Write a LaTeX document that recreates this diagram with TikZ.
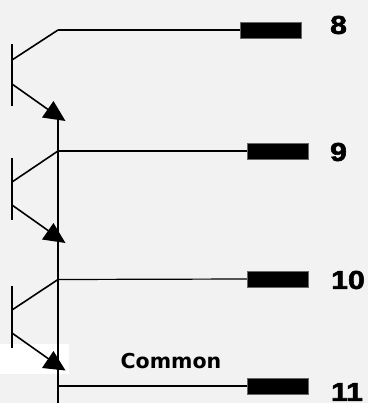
\documentclass[tikz,border=0pt]{standalone}
\usepackage{fontspec}
\setmainfont{DejaVu Sans}
\newfontfamily\pinfont[FakeBold=2.2,FakeStretch=1.17]{Liberation Sans Bold}
\tikzset{
  x=1bp,y=-1bp,
  wirea/.style={draw=black,line width=1.2bp},
  wireb/.style={draw=black,line width=1.6bp},
  pinbox/.style={fill=black,draw=black!60,line width=0.5bp,minimum width=61bp,minimum height=16bp,inner sep=0pt,outer sep=0pt},
  pinlabel/.style={font=\fontsize{26}{28}\pinfont,inner sep=0pt,text=black},
  smalllabel/.style={font=\fontsize{20.6}{22}\selectfont\bfseries,inner sep=0pt,text=black},
  tip/.style={fill=black,draw=none}
}
\begin{document}
\begin{tikzpicture}
\useasboundingbox (0,0) rectangle (368,403);
\fill[black!5] (0,0) rectangle (368,403);
\fill[white] (0,344) rectangle (69,373.5);
% junctions
\coordinate (c1) at (58,30);
\coordinate (c2) at (58,151);
\coordinate (c3) at (58,279.5);
\coordinate (c4) at (58,386);
\coordinate (busTop) at (58,118);
\coordinate (busEnd) at (58,403);
% output pins
\node[pinbox] (p8) at (270.5,30) {};
\node[pinbox] (p9) at (277.5,151) {};
\node[pinbox] (p10) at (277.5,279) {};
\node[pinbox] (p11) at (277.5,386) {};
% bus and wires
\draw[wireb] (busTop) -- (busEnd);
\draw[wirea] (c1) -- (p8.west);
\draw[wirea] (c2) -- (p9.west);
\draw[wirea] (c3) -- (p10.west);
\draw[wirea] (c4) -- (p11.west);
% transistor 1
\coordinate (b1a) at (12,44); \coordinate (b1b) at (12,106);
\coordinate (k1) at (12,60); \coordinate (e1) at (12,84); \coordinate (t1) at (53,113);
\draw[wireb] (b1a) -- (b1b);
\draw[wireb] (k1) -- (c1);
\draw[wireb] (e1) -- (t1);
\fill[tip] (53.5,101) -- (42,117.5) -- (65.5,121) -- cycle;
% transistor 2
\coordinate (b2a) at (12,158); \coordinate (b2b) at (12,220);
\coordinate (k2) at (12,182); \coordinate (e2) at (12,205); \coordinate (t2) at (53,234);
\draw[wireb] (b2a) -- (b2b);
\draw[wireb] (k2) -- (c2);
\draw[wireb] (e2) -- (t2);
\fill[tip] (53.5,223) -- (42,239.5) -- (65.5,243) -- cycle;
% transistor 3
\coordinate (b3a) at (12,286); \coordinate (b3b) at (12,348);
\coordinate (k3) at (12,310); \coordinate (e3) at (12,333); \coordinate (t3) at (53,362);
\draw[wireb] (b3a) -- (b3b);
\draw[wireb] (k3) -- (c3);
\draw[wireb] (e3) -- (t3);
\fill[tip] (53.5,351) -- (42,368) -- (65.5,370.5) -- cycle;
% labels
\node[pinlabel] (l8) at (338.5,25) {8};
\node[pinlabel] (l9) at (338.5,152) {9};
\node[pinlabel] (l10) at (348,280) {10};
\node[pinlabel] (l11) at (347,392) {11};
\node[smalllabel] (lc) at (171,361) {Common};
\end{tikzpicture}
\end{document}
